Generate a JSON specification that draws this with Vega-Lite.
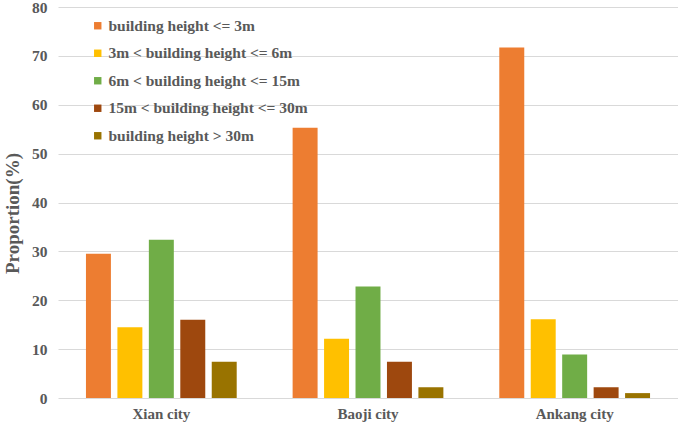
{
  "$schema": "https://vega.github.io/schema/vega-lite/v6.json",
  "width": 620,
  "height": 391,
  "autosize": {"type": "none"},
  "padding": {"left": 58, "top": 7, "right": 0, "bottom": 28},
  "background": "white",
  "config": {
    "view": {"stroke": null},
    "font": "Liberation Serif"
  },
  "data": {
    "values": [
      {"city": "Xian city", "class": "building height <= 3m", "value": 29.5},
      {"city": "Xian city", "class": "3m < building height <= 6m", "value": 14.5},
      {"city": "Xian city", "class": "6m < building height <= 15m", "value": 32.4},
      {"city": "Xian city", "class": "15m < building height <= 30m", "value": 16.0},
      {"city": "Xian city", "class": "building height > 30m", "value": 7.4},
      {"city": "Baoji city", "class": "building height <= 3m", "value": 55.3},
      {"city": "Baoji city", "class": "3m < building height <= 6m", "value": 12.1},
      {"city": "Baoji city", "class": "6m < building height <= 15m", "value": 22.8},
      {"city": "Baoji city", "class": "15m < building height <= 30m", "value": 7.4},
      {"city": "Baoji city", "class": "building height > 30m", "value": 2.2},
      {"city": "Ankang city", "class": "building height <= 3m", "value": 71.7},
      {"city": "Ankang city", "class": "3m < building height <= 6m", "value": 16.1},
      {"city": "Ankang city", "class": "6m < building height <= 15m", "value": 8.9},
      {"city": "Ankang city", "class": "15m < building height <= 30m", "value": 2.2},
      {"city": "Ankang city", "class": "building height > 30m", "value": 1.0}
    ]
  },
  "mark": {"type": "bar"},
  "encoding": {
    "x": {
      "field": "city",
      "type": "nominal",
      "sort": ["Xian city", "Baoji city", "Ankang city"],
      "scale": {"paddingInner": 0, "paddingOuter": 0},
      "axis": {
        "title": null,
        "labelAngle": 0,
        "domain": false,
        "ticks": false,
        "labelPadding": 8,
        "labelFontSize": 15,
        "labelFontWeight": "bold",
        "labelColor": "#595959"
      }
    },
    "xOffset": {
      "field": "class",
      "type": "nominal",
      "sort": [
        "building height <= 3m",
        "3m < building height <= 6m",
        "6m < building height <= 15m",
        "15m < building height <= 30m",
        "building height > 30m"
      ],
      "scale": {"paddingInner": 0.206, "paddingOuter": 0.889}
    },
    "y": {
      "field": "value",
      "type": "quantitative",
      "scale": {"domain": [0, 80]},
      "axis": {
        "title": "Proportion(%)",
        "titleFontSize": 19,
        "titleFontWeight": "bold",
        "titleColor": "#595959",
        "titleX": -46,
        "titleY": 206,
        "titleAlign": "center",
        "titleBaseline": "middle",
        "titleAngle": -90,
        "values": [0, 10, 20, 30, 40, 50, 60, 70, 80],
        "domain": false,
        "ticks": false,
        "labelPadding": 11,
        "labelFontSize": 15.5,
        "labelFontWeight": "bold",
        "labelColor": "#595959",
        "gridColor": "#D9D9D9",
        "gridWidth": 1.2
      }
    },
    "color": {
      "field": "class",
      "type": "nominal",
      "sort": [
        "building height <= 3m",
        "3m < building height <= 6m",
        "6m < building height <= 15m",
        "15m < building height <= 30m",
        "building height > 30m"
      ],
      "scale": {
        "domain": [
          "building height <= 3m",
          "3m < building height <= 6m",
          "6m < building height <= 15m",
          "15m < building height <= 30m",
          "building height > 30m"
        ],
        "range": ["#ED7D31", "#FFC000", "#70AD47", "#9E480E", "#997300"]
      },
      "legend": {
        "title": null,
        "orient": "none",
        "legendX": 32,
        "legendY": 11,
        "symbolType": "square",
        "symbolSize": 55,
        "symbolStrokeWidth": 0,
        "labelFontSize": 15.5,
        "labelFontWeight": "bold",
        "labelColor": "#595959",
        "labelOffset": 3,
        "rowPadding": 10.5,
        "labelLimit": 400
      }
    }
  }
}
